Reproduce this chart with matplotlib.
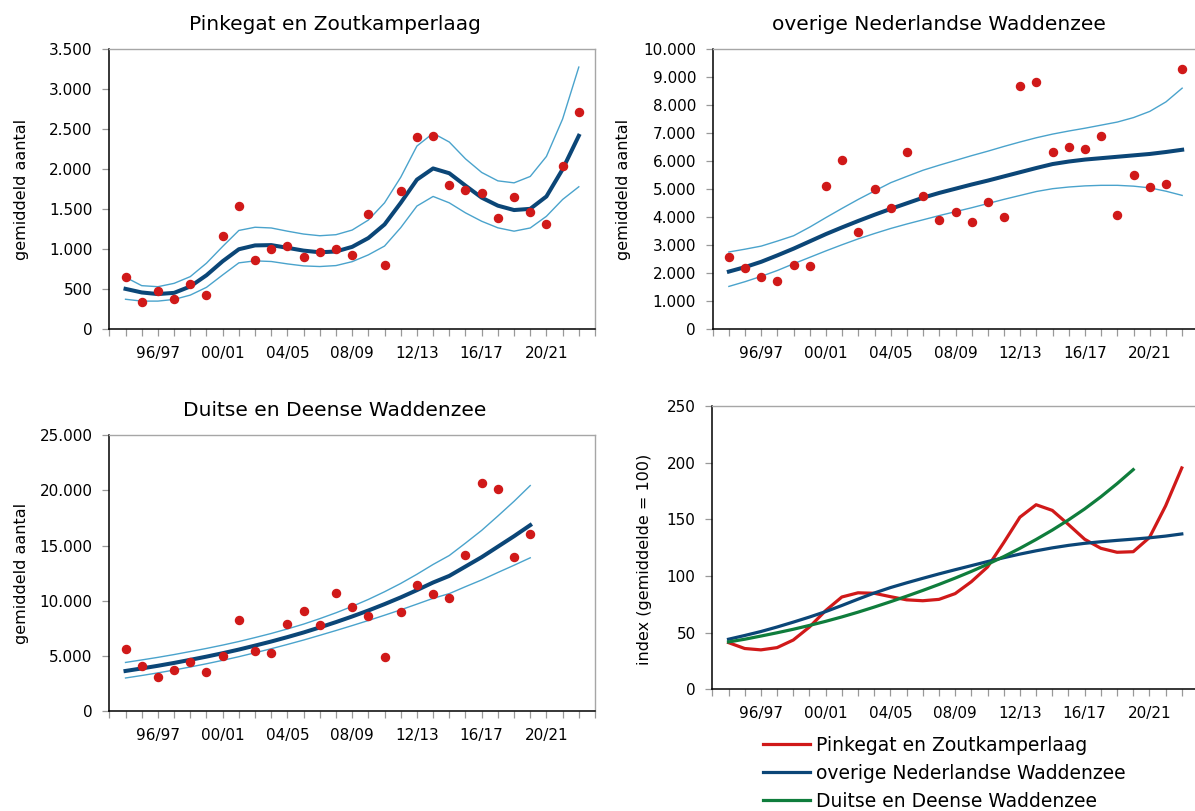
import matplotlib
matplotlib.use('Agg')
import matplotlib.pyplot as plt
from matplotlib.ticker import FuncFormatter
import numpy as np

# seasons on the category axis (one empty slot is kept on each side)
seasons = ['94/95', '95/96', '96/97', '97/98', '98/99', '99/00', '00/01', '01/02',
           '02/03', '03/04', '04/05', '05/06', '06/07', '07/08', '08/09', '09/10',
           '10/11', '11/12', '12/13', '13/14', '14/15', '15/16', '16/17', '17/18',
           '18/19', '19/20', '20/21', '21/22', '22/23']
shown_labels = ['96/97', '00/01', '04/05', '08/09', '12/13', '16/17', '20/21']

# Pinkegat en Zoutkamperlaag
pink_counts = [650, 344, 482, 373, 570, 432, 1169, 1542, 863, 1006, 1039, 901, 960, 1006,
               930, 1446, 805, 1727, 2406, 2414, 1802, 1743, 1697, 1387, 1647, 1463, 1320,
               2037, 2712]
pink_trend = [505, 460, 440, 455, 535, 675, 850, 1000, 1048, 1052, 1018, 983, 962, 972,
              1030, 1140, 1310, 1580, 1870, 2010, 1950, 1795, 1645, 1545, 1490, 1505, 1660,
              2000, 2418]
pink_upper = [650, 545, 532, 574, 658, 826, 1035, 1235, 1275, 1266, 1226, 1190, 1169, 1182,
              1240, 1365, 1580, 1900, 2290, 2450, 2340, 2130, 1960, 1855, 1830, 1910, 2160,
              2628, 3277]
pink_lower = [375, 352, 352, 373, 427, 524, 679, 830, 855, 847, 817, 792, 784, 796, 845, 930,
              1040, 1270, 1540, 1660, 1580, 1455, 1350, 1268, 1226, 1266, 1412, 1622, 1781]

# overige Nederlandse Waddenzee
ned_counts = [2575, 2204, 1880, 1725, 2311, 2263, 5126, 6060, 3473, 4994, 4323, 6347, 4766,
              3892, 4204, 3820, 4527, 4000, 8683, 8838, 6335, 6503, 6431, 6910, 4072, 5497,
              5078, 5174, 9305]
ned_trend = [2060, 2220, 2410, 2640, 2880, 3140, 3400, 3640, 3870, 4090, 4300, 4500, 4700,
             4870, 5020, 5170, 5310, 5460, 5610, 5760, 5900, 5990, 6060, 6110, 6160, 6210,
             6260, 6330, 6410]
ned_upper = [2760, 2860, 2970, 3150, 3340, 3650, 3990, 4320, 4640, 4940, 5235, 5460, 5680,
             5860, 6030, 6200, 6360, 6530, 6690, 6840, 6970, 7080, 7180, 7290, 7400, 7560,
             7780, 8120, 8610]
ned_lower = [1530, 1700, 1890, 2100, 2340, 2570, 2800, 3020, 3230, 3420, 3600, 3760, 3910,
             4060, 4200, 4340, 4490, 4640, 4780, 4920, 5020, 5080, 5120, 5140, 5140, 5110,
             5050, 4930, 4780]

# Duitse en Deense Waddenzee (t/m 19/20)
de_counts = [5653, 4051, 3114, 3748, 4414, 3567, 4958, 8253, 5441, 5230, 7890, 9039, 7799,
             10671, 9432, 8585, 4867, 8948, 11457, 10641, 10248, 14147, 20647, 20133, 13966,
             16052]
de_trend = [3630, 3860, 4100, 4360, 4640, 4930, 5240, 5570, 5930, 6300, 6700, 7120, 7580,
            8060, 8570, 9110, 9690, 10300, 10960, 11650, 12250, 13100, 13950, 14900, 15850,
            16850]
de_upper = [4403, 4630, 4864, 5118, 5392, 5674, 5976, 6300, 6658, 7030, 7440, 7879, 8374,
            8904, 9484, 10116, 10812, 11565, 12397, 13287, 14099, 15222, 16376, 17677, 19012,
            20439]
de_lower = [2993, 3218, 3456, 3714, 3993, 4284, 4594, 4924, 5281, 5646, 6034, 6434, 6862,
            7296, 7744, 8204, 8684, 9173, 9690, 10215, 10644, 11274, 11883, 12559, 13214,
            13891]

# index (gemiddelde = 100)
idx_pink = [41.2, 36.0, 34.8, 36.8, 43.5, 55.0, 69.5, 81.5, 85.2, 84.8, 81.8, 79.0, 78.2,
            79.4, 84.5, 95.0, 108.0, 129.5, 152.0, 163.0, 158.0, 145.5, 132.5, 124.5, 121.0,
            121.5, 134.0, 162.0, 195.5]
idx_ned = [44.2, 47.5, 51.0, 55.0, 59.3, 63.8, 68.6, 74.0, 79.6, 85.0, 89.8, 94.0, 98.0,
           101.9, 105.6, 109.2, 112.8, 116.2, 119.4, 122.3, 124.9, 127.1, 128.9, 130.3,
           131.5, 132.6, 133.8, 135.3, 137.2]
idx_de = [41.8, 44.2, 47.0, 49.9, 53.0, 56.4, 60.0, 63.9, 68.1, 72.6, 77.3, 82.2, 87.3, 92.6,
          98.2, 104.1, 110.4, 117.2, 124.5, 132.3, 140.6, 149.6, 159.3, 170.0, 181.6, 194.0]

dot_color = '#d01919'
trend_color = '#0b4677'
band_color = '#4aa3cc'
green = '#0f7d3c'

plt.rcParams['font.family'] = 'DejaVu Sans'
thousands = FuncFormatter(lambda v, p: f'{int(round(v)):,}'.replace(',', '.'))


def style_axis(ax, ymax, ystep):
    n = len(seasons)
    ax.set_xlim(-1, n)
    ax.set_xticks(np.arange(-1, n + 1))
    ax.set_xticklabels([''] + [s if s in shown_labels else '' for s in seasons] + [''])
    ax.set_ylim(0, ymax)
    ax.set_yticks(np.arange(0, ymax + 1, ystep))
    for side in ['top', 'right']:
        ax.spines[side].set_color('#a6a6a6')
        ax.spines[side].set_linewidth(1.0)
    for side in ['left', 'bottom']:
        ax.spines[side].set_color('black')
        ax.spines[side].set_linewidth(1.1)
    ax.tick_params(axis='x', length=5, width=0.9, color='#999999', pad=7, labelsize=11)
    ax.tick_params(axis='y', length=5, width=0.9, color='#999999', pad=7, labelsize=11)


def trend_panel(ax, counts, trend, upper, lower, title, ymax, ystep):
    x = np.arange(len(counts))
    ax.plot(x, upper, color=band_color, linewidth=1.0)
    ax.plot(x, lower, color=band_color, linewidth=1.0)
    ax.plot(x, trend, color=trend_color, linewidth=2.9, solid_joinstyle='round')
    ax.plot(x, counts, 'o', color=dot_color, markersize=5.8, zorder=5)
    style_axis(ax, ymax, ystep)
    ax.yaxis.set_major_formatter(thousands)
    ax.set_title(title, fontsize=14.5, x=0.465, pad=14)
    ax.set_ylabel('gemiddeld aantal', fontsize=11.5)


fig = plt.figure(figsize=(11.95, 8.11), dpi=100)
ax1 = fig.add_axes([0.0915, 0.594, 0.4064, 0.3453])
ax2 = fig.add_axes([0.5964, 0.594, 0.4064, 0.3453])
ax3 = fig.add_axes([0.0915, 0.1233, 0.4064, 0.340])
ax4 = fig.add_axes([0.5961, 0.1501, 0.4064, 0.349])

trend_panel(ax1, pink_counts, pink_trend, pink_upper, pink_lower,
            'Pinkegat en Zoutkamperlaag', 3500, 500)
trend_panel(ax2, ned_counts, ned_trend, ned_upper, ned_lower,
            'overige Nederlandse Waddenzee', 10000, 1000)
trend_panel(ax3, de_counts, de_trend, de_upper, de_lower,
            'Duitse en Deense Waddenzee', 25000, 5000)
ax1.yaxis.set_label_coords(-0.165, 0.5)
ax2.yaxis.set_label_coords(-0.168, 0.5)
ax3.yaxis.set_label_coords(-0.165, 0.5)

ax4.plot(np.arange(len(idx_pink)), idx_pink, color=dot_color, linewidth=2.3,
         solid_joinstyle='round', label='Pinkegat en Zoutkamperlaag')
ax4.plot(np.arange(len(idx_ned)), idx_ned, color=trend_color, linewidth=2.3,
         solid_joinstyle='round', label='overige Nederlandse Waddenzee')
ax4.plot(np.arange(len(idx_de)), idx_de, color=green, linewidth=2.3,
         solid_joinstyle='round', label='Duitse en Deense Waddenzee')
style_axis(ax4, 250, 50)
ax4.set_ylabel('index (gemiddelde = 100)', fontsize=11.5)
ax4.yaxis.set_label_coords(-0.125, 0.46)

fig.legend(loc='upper left', bbox_to_anchor=(763 / 1195, 1 - 736 / 811), frameon=False,
           fontsize=13.5, handlelength=2.5, handletextpad=0.3, labelspacing=0.48,
           borderpad=0, borderaxespad=0)

fig.savefig('out.png', dpi=100, facecolor='white')
